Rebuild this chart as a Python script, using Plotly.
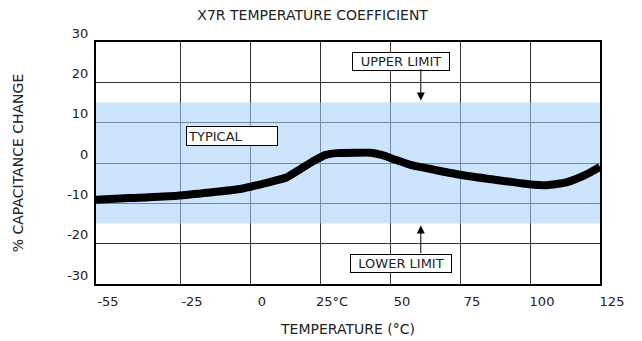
import plotly.graph_objects as go

# ---- data ----
temperature_c = [-55, -43, -26, -3, 6, 13, 18, 23, 27, 31, 38, 43, 47, 52, 58, 66, 75, 87, 100, 106, 113, 120, 125]
cap_change_pct = [-9.1, -8.7, -8.1, -6.4, -4.9, -3.6, -1.5, 0.6, 2.0, 2.45, 2.55, 2.55, 2.0, 0.8, -0.6, -1.7, -2.9, -4.1, -5.3, -5.5, -4.8, -2.9, -1.0]

band_limits = [-15, 15]          # X7R typical tolerance band (±15 %)
temp_range = [-55, 125]
x_ticks = [-55, -25, 0, 25, 50, 75, 100, 125]
x_tick_text = ["-55", "-25", "0", "25°C", "50", "75", "100", "125"]
y_ticks = [-30, -20, -10, 0, 10, 20, 30]
y_tick_text = ["-30", "-20", "-10", "0", "10", "20", "30"]

title_text = "X7R TEMPERATURE COEFFICIENT"
x_title = "TEMPERATURE (°C)"
y_title = "% CAPACITANCE CHANGE"

FONT = "DejaVu Sans"
TXT = "#222222"

fig = go.Figure()

# typical band (semi-transparent so gridlines show through bluish)
fig.add_trace(go.Scatter(
    x=[temp_range[0], temp_range[1], temp_range[1], temp_range[0], temp_range[0]],
    y=[band_limits[0], band_limits[0], band_limits[1], band_limits[1], band_limits[0]],
    mode="lines", fill="toself", fillcolor="rgba(165,207,249,0.57)",
    line=dict(width=0, color="rgba(0,0,0,0)"), hoverinfo="skip", showlegend=False,
))

fig.add_trace(go.Scatter(
    x=temperature_c, y=cap_change_pct, mode="lines",
    line=dict(color="black", width=8, shape="spline", smoothing=0.5),
    hoverinfo="skip", showlegend=False,
))

box = dict(bordercolor="black", borderwidth=1, bgcolor="white", borderpad=1,
           font=dict(family=FONT, size=13, color=TXT), showarrow=False)
fig.add_annotation(text="UPPER LIMIT", x=54, y=25.1, width=94, **box)
fig.add_annotation(text="LOWER LIMIT", x=54, y=-25.0, width=98, **box)
fig.add_annotation(text="TYPICAL", x=-6.5, y=6.7, width=88, height=16, align="left", **box)

arrow = dict(text="", showarrow=True, arrowhead=2, arrowsize=1.6, arrowwidth=1,
             arrowcolor="black", ax=0, standoff=2)
fig.add_annotation(x=61, y=band_limits[1], ay=-35, **arrow)
fig.add_annotation(x=61, y=band_limits[0], ay=31, **arrow)

fig.update_layout(
    width=642, height=341,
    margin=dict(l=96, r=42, t=42, b=57, autoexpand=False),
    paper_bgcolor="white", plot_bgcolor="white",
    font=dict(family=FONT, size=13, color=TXT),
    title=dict(text=title_text, x=0.487, xanchor="center", xref="container",
               y=0.957, yanchor="middle", yref="container",
               font=dict(family=FONT, size=14, color=TXT)),
)
fig.update_xaxes(
    range=temp_range, tickvals=x_ticks, ticktext=x_tick_text,
    showgrid=True, gridcolor="#333333", gridwidth=1, zeroline=False,
    showline=True, linecolor="black", linewidth=2, mirror=True, automargin=False,
    ticks="", ticklabelshift=12, ticklabelstandoff=4,
    tickfont=dict(family=FONT, size=13, color=TXT),
    title=dict(text=x_title, standoff=17, font=dict(family=FONT, size=14, color=TXT)),
)
fig.update_yaxes(
    range=[-30, 30], tickvals=y_ticks, ticktext=y_tick_text,
    showgrid=True, gridcolor="#333333", gridwidth=1, zeroline=False,
    showline=True, linecolor="black", linewidth=2, mirror=True, automargin=False,
    ticks="", ticklabelshift=-9, ticklabelstandoff=3,
    tickfont=dict(family=FONT, size=13, color=TXT),
    title=dict(text=y_title, standoff=40, font=dict(family=FONT, size=14, color=TXT)),
)

fig.write_html("out.html", config={"displayModeBar": False},
               post_script="document.body.style.margin='0';")
